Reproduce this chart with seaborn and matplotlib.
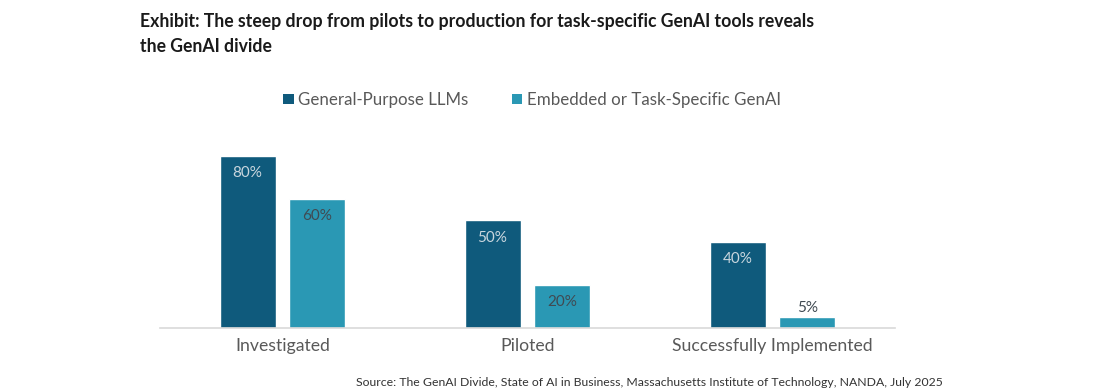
import matplotlib
matplotlib.use("Agg")
import matplotlib.pyplot as plt
import seaborn as sns
import pandas as pd

categories = ["Investigated", "Piloted", "Successfully Implemented"]
series_names = ["General-Purpose LLMs", "Embedded or Task-Specific GenAI"]
general_vals = [0.80, 0.50, 0.40]
embedded_vals = [0.60, 0.20, 0.05]
value_labels_general = ["80%", "50%", "40%"]
value_labels_embedded = ["60%", "20%", "5%"]

colors = ["#0f5a7c", "#2a98b4"]

sns.set_theme(style="white")
plt.rcParams["font.family"] = ["Lato", "DejaVu Sans"]

df = pd.DataFrame({
    "category": categories * 2,
    "series": [series_names[0]] * 3 + [series_names[1]] * 3,
    "value": general_vals + embedded_vals,
})

fig = plt.figure(figsize=(11, 3.9), dpi=100)
ax = fig.add_axes([160 / 1100, (390 - 328) / 390, 735 / 1100, 183 / 390])

sns.barplot(data=df, x="category", y="value", hue="series", order=categories,
            hue_order=series_names, palette=colors, width=0.571, gap=0.2,
            ax=ax, legend=False, saturation=1)

ax.set_xlim(-0.5, 2.5)
ax.set_ylim(0, 0.85)
for s in ["top", "right", "left"]:
    ax.spines[s].set_visible(False)
ax.spines["bottom"].set_color("#d9d9d9")
ax.spines["bottom"].set_linewidth(1.2)
ax.set_yticks([])
ax.set_xlabel("")
ax.set_ylabel("")
ax.tick_params(axis="x", length=0, pad=7, labelsize=12.7, labelcolor="#595959")

# value labels
containers = ax.containers
for cont, labels, col in zip(containers, [value_labels_general, value_labels_embedded],
                             ["#c9d6de", "#404a52"]):
    for bar, lab in zip(cont, labels):
        h = bar.get_height()
        x = bar.get_x() + bar.get_width() / 2
        if h < 0.1:
            ax.annotate(lab, (x, h), xytext=(0, 1.5), textcoords="offset points",
                        ha="center", va="bottom", fontsize=11, color="#404a52")
        else:
            ax.annotate(lab, (x, h), xytext=(0, -12.5), textcoords="offset points",
                        ha="center", va="center", fontsize=11, color=col)

# legend
from matplotlib.patches import Patch
handles = [Patch(facecolor=c, edgecolor="none") for c in colors]
fig.legend(handles, series_names, loc="center", bbox_to_anchor=(532 / 1100, 1 - 100 / 390),
           ncol=2, frameon=False, fontsize=12.2, handlelength=0.6, handleheight=0.6,
           handletextpad=0.25, columnspacing=2.6, labelcolor="#595959")

fig.text(140 / 1100, 1 - 22 / 390, "Exhibit: The steep drop from pilots to production for task-specific GenAI tools reveals",
         fontsize=12.7, fontweight="bold", color="#1a1a1a", va="center", ha="left")
fig.text(140 / 1100, 1 - 46 / 390, "the GenAI divide",
         fontsize=12.7, fontweight="bold", color="#1a1a1a", va="center", ha="left")
fig.text(943 / 1100, 1 - 382 / 390,
         "Source: The GenAI Divide, State of AI in Business, Massachusetts Institute of Technology, NANDA, July 2025",
         fontsize=8.8, color="#333333", va="center", ha="right")

fig.savefig("out.png", dpi=100)
